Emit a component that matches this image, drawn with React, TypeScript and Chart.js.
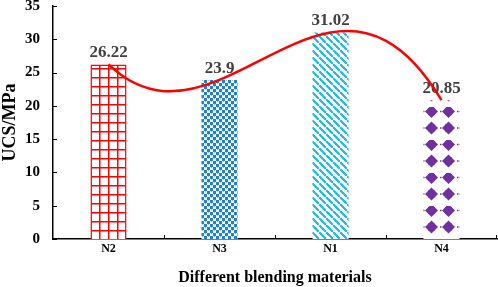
import React, { useEffect, useRef } from "react";
import { Chart, registerables } from "chart.js";
Chart.register(...registerables);

const categories = ["N2", "N3", "N1", "N4"];
const ucsValues = [26.22, 23.9, 31.02, 20.85];
const valueLabels = ["26.22", "23.9", "31.02", "20.85"];
const yTickValues = [0, 5, 10, 15, 20, 25, 30, 35];
const trendOrder = 3;

const FONT = "'Liberation Serif', 'Times New Roman', serif";

function makeTile(w: number, h: number, draw: (g: CanvasRenderingContext2D) => void) {
  const c = document.createElement("canvas");
  c.width = w;
  c.height = h;
  const g = c.getContext("2d") as CanvasRenderingContext2D;
  draw(g);
  return (g.createPattern(c, "repeat") as CanvasPattern);
}

function makePatterns() {
  const grid = makeTile(9, 9, (g) => {
    g.fillStyle = "#ffffff";
    g.fillRect(0, 0, 9, 9);
    g.fillStyle = "#ff0000";
    g.fillRect(0, 0, 9, 1.5);
    g.fillRect(0, 0, 1.5, 9);
  });
  const checker = makeTile(6, 6, (g) => {
    g.fillStyle = "#ffffff";
    g.fillRect(0, 0, 6, 6);
    g.fillStyle = "#1f7fd2";
    g.fillRect(0, 0, 3, 3);
    g.fillRect(3, 3, 3, 3);
    g.fillStyle = "#8cc2ee";
    g.fillRect(1, 3, 1, 1);
    g.fillRect(4, 0, 1, 1);
  });
  const stripes = makeTile(7, 7, (g) => {
    g.fillStyle = "#ffffff";
    g.fillRect(0, 0, 7, 7);
    g.fillStyle = "#19bff0";
    for (let i = -1; i < 8; i++) {
      g.fillRect(i, i, 2, 2);
    }
  });
  const diamonds = makeTile(17, 33, (g) => {
    g.fillStyle = "#ffffff";
    g.fillRect(0, 0, 17, 33);
    g.fillStyle = "#7030a0";
    const rows = [4.5, 21];
    for (const cy of rows) {
      const cx = 8.5;
      g.beginPath();
      g.moveTo(cx - 6.5, cy);
      g.lineTo(cx, cy - 6.5);
      g.lineTo(cx + 6.5, cy);
      g.lineTo(cx, cy + 6.5);
      g.closePath();
      g.fill();
      g.fillRect(cx - 3.5, cy - 3.5, 7, 7);
      g.fillRect(0, cy - 0.75, 1.5, 1.5);
    }
  });
  return [grid, checker, stripes, diamonds];
}

function polyfit(xs: number[], ys: number[], order: number) {
  const m = Math.min(order, xs.length - 1) + 1;
  const A: number[][] = [];
  for (let r = 0; r < m; r++) {
    const row: number[] = [];
    for (let c = 0; c < m; c++) {
      let s = 0;
      for (let i = 0; i < xs.length; i++) s += Math.pow(xs[i], r + c);
      row.push(s);
    }
    let b = 0;
    for (let i = 0; i < xs.length; i++) b += ys[i] * Math.pow(xs[i], r);
    row.push(b);
    A.push(row);
  }
  for (let c = 0; c < m; c++) {
    let piv = c;
    for (let r = c + 1; r < m; r++) if (Math.abs(A[r][c]) > Math.abs(A[piv][c])) piv = r;
    const tmp = A[c]; A[c] = A[piv]; A[piv] = tmp;
    for (let r = 0; r < m; r++) {
      if (r === c) continue;
      const f = A[r][c] / A[c][c];
      for (let k = c; k <= m; k++) A[r][k] -= f * A[c][k];
    }
  }
  return A.map((row, i) => row[m] / row[i]);
}

const patternAlign = {
  id: "patternAlign",
  beforeDatasetsDraw(chart: any) {
    const meta = chart.getDatasetMeta(0);
    const bg = chart.data.datasets[0].backgroundColor;
    meta.data.forEach((el: any, i: number) => {
      const p = bg[i];
      if (p && p.setTransform) {
        p.setTransform(new DOMMatrix().translate(Math.round(el.x - el.width / 2), Math.round(el.base)));
      }
    });
  },
};

const overlay = {
  id: "overlay",
  afterDatasetsDraw(chart: any) {
    const ctx = chart.ctx;
    const { left, bottom, right } = chart.chartArea;
    const xs = chart.scales.x;
    const ys = chart.scales.y;
    const meta = chart.getDatasetMeta(0);
    ctx.save();
    ctx.font = `bold 17px ${FONT}`;
    ctx.fillStyle = "#404040";
    ctx.textAlign = "center";
    ctx.textBaseline = "alphabetic";
    meta.data.forEach((el: any, i: number) => {
      ctx.fillText(valueLabels[i], el.x, el.y - 7);
    });
    ctx.restore();

    // polynomial trendline (order 3), drawn exactly as cubic Bezier segments
    const idx = ucsValues.map((_, i) => i);
    const coef = polyfit(idx, ucsValues, trendOrder);
    const p = (x: number) => coef.reduce((s, c, k) => s + c * Math.pow(x, k), 0);
    const dp = (x: number) => coef.reduce((s, c, k) => (k === 0 ? s : s + k * c * Math.pow(x, k - 1)), 0);
    ctx.save();
    ctx.strokeStyle = "#ff0000";
    ctx.lineWidth = 2.5;
    ctx.beginPath();
    ctx.moveTo(xs.getPixelForValue(0), ys.getPixelForValue(p(0)));
    for (let i = 0; i < idx.length - 1; i++) {
      ctx.bezierCurveTo(
        xs.getPixelForValue(i + 1 / 3), ys.getPixelForValue(p(i) + dp(i) / 3),
        xs.getPixelForValue(i + 2 / 3), ys.getPixelForValue(p(i + 1) - dp(i + 1) / 3),
        xs.getPixelForValue(i + 1), ys.getPixelForValue(p(i + 1))
      );
    }
    ctx.stroke();
    ctx.restore();

    ctx.save();
    ctx.strokeStyle = "#000";
    ctx.lineWidth = 1;
    ctx.beginPath();
    ys.ticks.forEach((t: any) => {
      const y = Math.round(ys.getPixelForValue(t.value)) + 0.5;
      ctx.moveTo(left, y);
      ctx.lineTo(left + 4, y);
    });
    for (let i = 1; i <= categories.length; i++) {
      const x = Math.min(Math.round(xs.getPixelForValue(i - 0.5)), right - 1) + 0.5;
      ctx.moveTo(x, bottom);
      ctx.lineTo(x, bottom - 4);
    }
    ctx.stroke();
    ctx.restore();
  },
};

export default function App() {
  const ref = useRef<HTMLCanvasElement | null>(null);
  useEffect(() => {
    const patterns = makePatterns();
    const chart = new Chart(ref.current as HTMLCanvasElement, {
      type: "bar",
      data: {
        labels: categories,
        datasets: [
          {
            data: ucsValues,
            backgroundColor: patterns as any,
            borderColor: ["#ff0000", "rgba(0,0,0,0)", "rgba(0,0,0,0)", "rgba(0,0,0,0)"],
            borderWidth: [1.5, 0, 0, 0],
            categoryPercentage: 1,
            barPercentage: 0.325,
          },
        ],
      },
      options: {
        responsive: false,
        animation: false,
        events: [],
        layout: { padding: { top: 6, right: 1, left: 0, bottom: 0 } },
        plugins: { legend: { display: false }, tooltip: { enabled: false } },
        scales: {
          x: {
            grid: { display: false, drawTicks: false },
            border: { display: true, color: "#000", width: 1.5 },
            ticks: { color: "#000", font: { family: FONT, weight: "bold", size: 12 }, padding: 3 },
            title: {
              display: true,
              text: "Different blending materials",
              color: "#000",
              font: { family: FONT, weight: "bold", size: 16 },
              padding: { top: 0, bottom: 0 },
            },
            afterFit(scale: any) {
              scale.height = 48;
            },
          },
          y: {
            min: 0,
            max: 35,
            afterBuildTicks(scale: any) {
              scale.ticks = yTickValues.map((v) => ({ value: v }));
            },
            grid: { display: false, drawTicks: false },
            border: { display: true, color: "#000", width: 1.5 },
            ticks: { color: "#000", font: { family: FONT, weight: "bold", size: 15 }, padding: 13 },
            title: {
              display: true,
              text: "UCS/MPa",
              color: "#000",
              font: { family: FONT, weight: "bold", size: 18 },
              padding: { top: 0, bottom: 0 },
            },
            afterFit(scale: any) {
              scale.width = 53;
              scale.paddingTop = 0;
              scale.paddingBottom = 0;
            },
          },
        },
      },
      plugins: [patternAlign, overlay],
    } as any);
    return () => chart.destroy();
  }, []);
  return (
    <div style={{ position: "absolute", left: 0, top: 0, width: 498, height: 287, background: "#fff" }}>
      <canvas ref={ref} width={498} height={287} />
    </div>
  );
}
